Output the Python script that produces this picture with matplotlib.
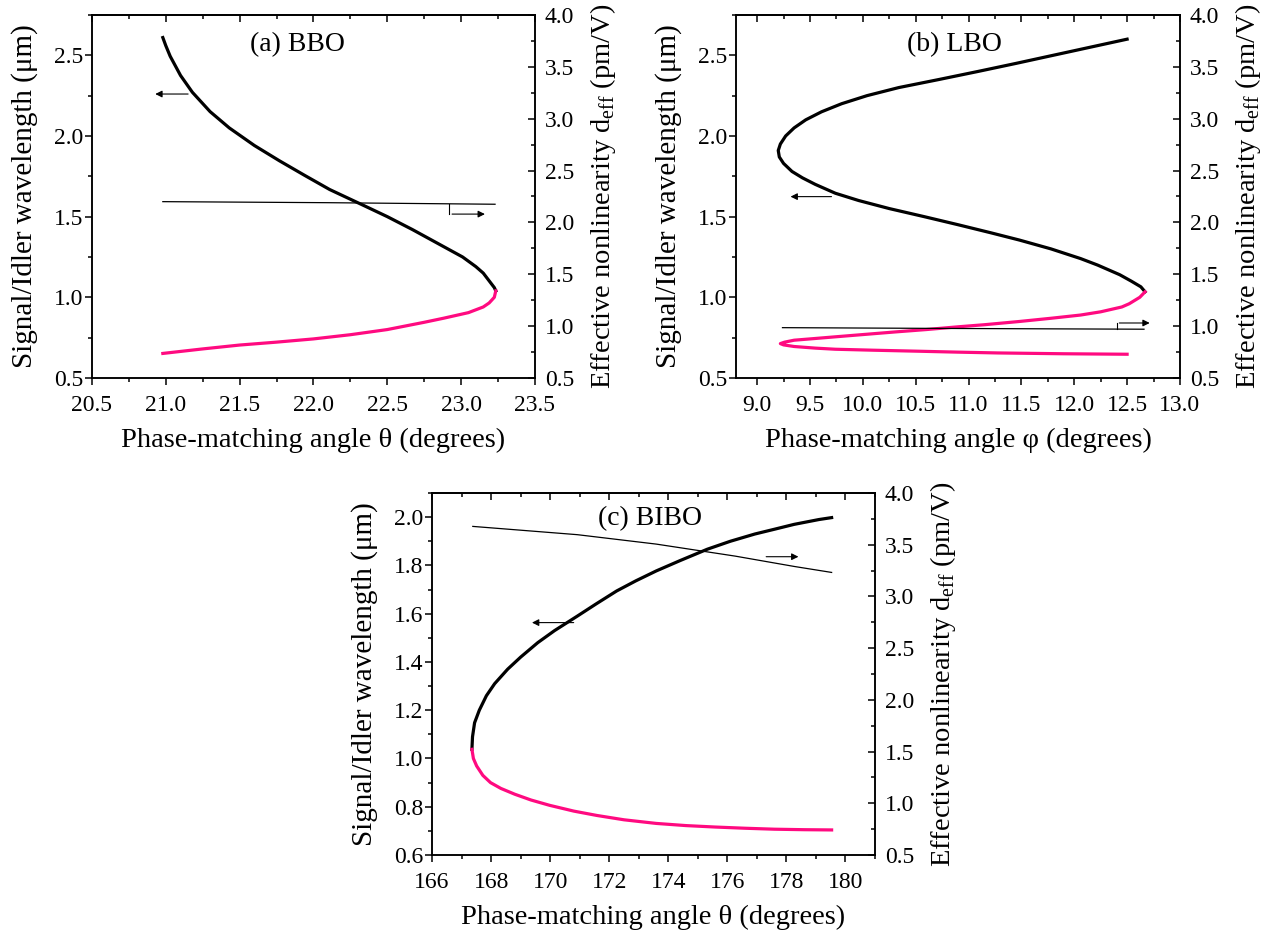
import matplotlib.pyplot as plt
from matplotlib.ticker import MultipleLocator

plt.rcParams["font.family"] = ["Liberation Serif", "DejaVu Serif"]
plt.rcParams["mathtext.fontset"] = "custom"
plt.rcParams["mathtext.rm"] = "Liberation Serif"
plt.rcParams["axes.linewidth"] = 1.1

PINK = "#FF0A80"

# (a) BBO
bbo_sig_ang = [20.98, 21.00, 21.03, 21.10, 21.18, 21.30, 21.43, 21.60, 21.77, 21.94, 22.11,
               22.35, 22.50, 22.67, 22.85, 23.01, 23.10, 23.15, 23.20, 23.225, 23.235]
bbo_sig_wl = [2.61, 2.56, 2.494, 2.375, 2.271, 2.151, 2.05, 1.941, 1.846, 1.756, 1.668,
              1.565, 1.50, 1.42, 1.33, 1.25, 1.19, 1.15, 1.09, 1.06, 1.04]
bbo_idl_ang = [23.235, 23.225, 23.19, 23.15, 23.05, 22.88, 22.75, 22.5, 22.25, 22.0, 21.75,
               21.5, 21.25, 20.98]
bbo_idl_wl = [1.04, 1.00, 0.965, 0.94, 0.905, 0.87, 0.845, 0.80, 0.768, 0.742, 0.722,
              0.704, 0.68, 0.652]
bbo_deff_ang = [20.98, 22.1, 23.23]
bbo_deff = [2.20, 2.19, 2.175]

# (b) LBO
lbo_sig_ang = [12.50, 12.15, 11.80, 11.45, 11.09, 10.72, 10.34, 10.04, 9.80, 9.61, 9.46,
               9.35, 9.27, 9.22, 9.20, 9.21, 9.25, 9.33, 9.43, 9.55, 9.74, 9.96, 10.25,
               10.58, 10.90, 11.21, 11.48, 11.78, 12.06, 12.22, 12.43, 12.54, 12.63, 12.67]
lbo_sig_wl = [2.60, 2.55, 2.50, 2.45, 2.40, 2.35, 2.30, 2.25, 2.20, 2.15, 2.10,
              2.05, 2.00, 1.95, 1.91, 1.87, 1.83, 1.78, 1.74, 1.70, 1.645, 1.60, 1.55,
              1.50, 1.45, 1.40, 1.355, 1.30, 1.24, 1.20, 1.14, 1.10, 1.065, 1.034]
lbo_idl_ang = [12.67, 12.62, 12.52, 12.45, 12.25, 12.06, 11.78, 11.48, 11.15, 10.90, 10.60,
               10.32, 10.02, 9.74, 9.50, 9.35, 9.26, 9.22, 9.25, 9.35, 9.55, 9.74, 10.1,
               10.51, 10.9, 11.28, 11.9, 12.50]
lbo_idl_wl = [1.034, 1.00, 0.96, 0.94, 0.91, 0.89, 0.87, 0.85, 0.83, 0.817, 0.80,
              0.786, 0.77, 0.755, 0.742, 0.734, 0.722, 0.713, 0.705, 0.695, 0.685, 0.678, 0.672,
              0.666, 0.66, 0.655, 0.65, 0.647]
lbo_deff_ang = [9.24, 10.9, 12.66]
lbo_deff = [0.985, 0.977, 0.97]

# (c) BIBO
bibo_sig_ang = [179.53, 179.1, 178.26, 177.6, 176.93, 176.1, 175.32, 174.4, 173.59, 172.9,
                172.25, 171.55, 170.92, 170.15, 169.58, 169.0, 168.56, 168.12, 167.84, 167.6,
                167.44, 167.37, 167.35]
bibo_sig_wl = [1.998, 1.99, 1.97, 1.95, 1.93, 1.90, 1.867, 1.82, 1.777, 1.736,
               1.694, 1.64, 1.59, 1.53, 1.48, 1.42, 1.37, 1.31, 1.26, 1.20,
               1.148, 1.09, 1.038]
bibo_idl_ang = [167.35, 167.4, 167.51, 167.72, 167.98, 168.33, 168.8, 169.35, 169.98, 170.8,
                171.58, 172.5, 173.59, 174.6, 175.59, 176.6, 177.6, 178.6, 179.53]
bibo_idl_wl = [1.038, 1.00, 0.969, 0.93, 0.90, 0.876, 0.852, 0.828, 0.806, 0.782,
               0.764, 0.746, 0.731, 0.722, 0.716, 0.711, 0.707, 0.705, 0.704]
bibo_deff_ang = [167.38, 170.92, 173.59, 176.26, 178.26, 179.53]
bibo_deff = [3.677, 3.597, 3.506, 3.39, 3.29, 3.232]

panels = [
    dict(rect=[0.0724, 0.5962, 0.3488, 0.3878], title="(a) BBO", tx=0.463, ty=0.917,
         xl=(20.5, 23.5), xmaj=0.5, yl=(0.5, 2.75), ymaj=0.5,
         xlabel="Phase-matching angle θ (degrees)",
         sig=(bbo_sig_ang, bbo_sig_wl), idl=(bbo_idl_ang, bbo_idl_wl),
         deff=(bbo_deff_ang, bbo_deff)),
    dict(rect=[0.5795, 0.5962, 0.3496, 0.3878], title="(b) LBO", tx=0.493, ty=0.917,
         xl=(8.8, 13.0), xmaj=0.5, yl=(0.5, 2.75), ymaj=0.5,
         xlabel="Phase-matching angle φ (degrees)",
         sig=(lbo_sig_ang, lbo_sig_wl), idl=(lbo_idl_ang, lbo_idl_wl),
         deff=(lbo_deff_ang, lbo_deff)),
    dict(rect=[0.3402, 0.0865, 0.3488, 0.3868], title="(c) BIBO", tx=0.492, ty=0.928,
         xl=(166, 181), xmaj=2, yl=(0.6, 2.1), ymaj=0.2,
         xlabel="Phase-matching angle θ (degrees)",
         sig=(bibo_sig_ang, bibo_sig_wl), idl=(bibo_idl_ang, bibo_idl_wl),
         deff=(bibo_deff_ang, bibo_deff)),
]

fig = plt.figure(figsize=(12.7, 9.36), dpi=100)
axes = []
for p in panels:
    ax = fig.add_axes(p["rect"])
    ax2 = ax.twinx()
    ax.plot(*p["sig"], color="black", lw=2.3, solid_joinstyle="round")
    ax.plot(*p["idl"], color=PINK, lw=2.3, solid_joinstyle="round")
    ax2.plot(*p["deff"], color="black", lw=0.9)

    ax.set_xlim(*p["xl"])
    ax.set_ylim(*p["yl"])
    ax2.set_ylim(0.5, 4.0)
    ax.xaxis.set_major_locator(MultipleLocator(p["xmaj"]))
    ax.xaxis.set_minor_locator(MultipleLocator(p["xmaj"] / 2))
    ax.yaxis.set_major_locator(MultipleLocator(p["ymaj"]))
    ax.yaxis.set_minor_locator(MultipleLocator(p["ymaj"] / 2))
    ax2.yaxis.set_major_locator(MultipleLocator(0.5))
    ax2.yaxis.set_minor_locator(MultipleLocator(0.25))
    if p["xmaj"] == 2:
        ax.xaxis.set_major_formatter("{x:.0f}")
    else:
        ax.xaxis.set_major_formatter("{x:.1f}")
    ax.yaxis.set_major_formatter("{x:.1f}")
    ax2.yaxis.set_major_formatter("{x:.1f}")

    ax.tick_params(which="both", direction="out", labelsize=17, width=1.1)
    ax.tick_params(axis="y", pad=1)
    ax.tick_params(axis="x", pad=7)
    ax.tick_params(which="major", length=5)
    ax.tick_params(which="minor", length=3)
    ax2.tick_params(which="both", direction="in", labelsize=17, width=1.1, pad=7)
    ax2.tick_params(which="major", length=5)
    ax2.tick_params(which="minor", length=3)

    top = ax.secondary_xaxis("top")
    top.xaxis.set_major_locator(MultipleLocator(p["xmaj"]))
    top.xaxis.set_minor_locator(MultipleLocator(p["xmaj"] / 2))
    top.tick_params(which="both", direction="in", labeltop=False, width=1.1)
    top.tick_params(which="major", length=5)
    top.tick_params(which="minor", length=3)

    ax.set_xlabel(p["xlabel"], fontsize=20.5, labelpad=9)
    ax.set_ylabel("Signal/Idler wavelength (μm)", fontsize=21, labelpad=12)
    ax2.set_ylabel("Effective nonlinearity d$_{\\mathrm{eff}}$ (pm/V)", fontsize=20.5,
                   labelpad=10)
    ax.text(p["tx"], p["ty"], p["title"], transform=ax.transAxes, fontsize=20,
            ha="center", va="center")
    axes.append((ax, ax2))

arrow = dict(arrowstyle="-|>", color="black", lw=0.8, mutation_scale=10)

# arrows pointing to the axis each curve belongs to
(a1, a2), (b1, b2), (c1, c2) = axes
a1.annotate("", xy=(20.91, 2.26), xytext=(21.17, 2.26), arrowprops=arrow)
a2.plot([22.92, 22.92], [2.175, 2.08], color="black", lw=0.8)
a2.annotate("", xy=(23.18, 2.08), xytext=(22.92, 2.08), arrowprops=arrow)

b1.annotate("", xy=(9.29, 1.624), xytext=(9.73, 1.624), arrowprops=arrow)
b2.plot([12.40, 12.40], [0.972, 1.03], color="black", lw=0.8)
b2.annotate("", xy=(12.74, 1.03), xytext=(12.40, 1.03), arrowprops=arrow)

c1.annotate("", xy=(169.29, 1.563), xytext=(170.89, 1.563), arrowprops=arrow)
c2.annotate("", xy=(178.5, 3.384), xytext=(177.22, 3.384), arrowprops=arrow)

fig.savefig("out.png", dpi=100)
